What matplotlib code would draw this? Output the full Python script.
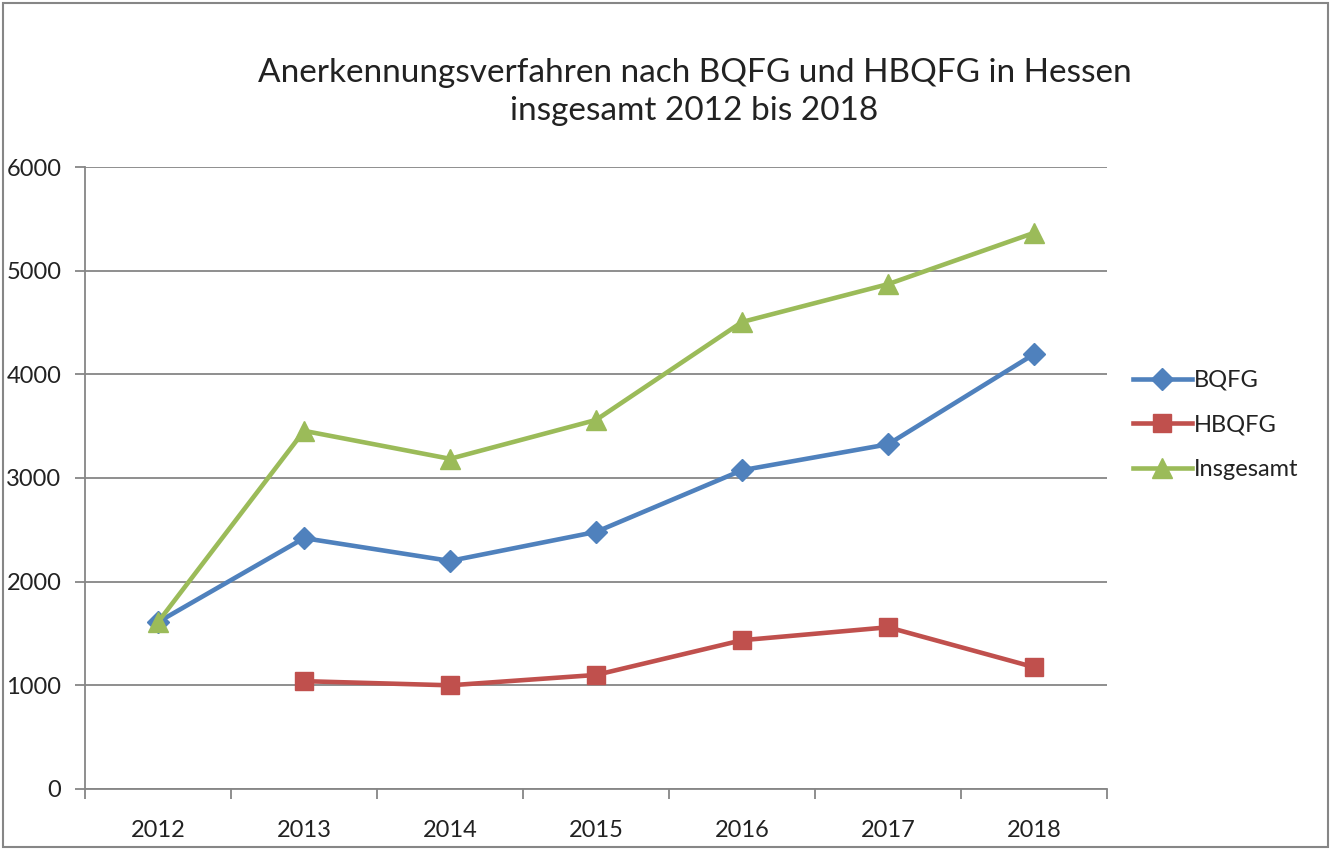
import matplotlib

matplotlib.use("Agg")
import matplotlib.pyplot as plt
from matplotlib.patches import Rectangle

years = ["2012", "2013", "2014", "2015", "2016", "2017", "2018"]
bqfg = [1610, 2420, 2200, 2480, 3075, 3325, 4195]
hbqfg = [None, 1040, 1000, 1100, 1435, 1560, 1175]
insgesamt = [1610, 3455, 3185, 3560, 4505, 4870, 5365]
series_names = ["BQFG", "HBQFG", "Insgesamt"]
title = "Anerkennungsverfahren nach BQFG und HBQFG in Hessen\ninsgesamt 2012 bis 2018"

plt.rcParams["font.family"] = ["Lato", "DejaVu Sans"]
grey = "#868686"
text_col = "#222222"

fig = plt.figure(figsize=(13.33, 8.5), dpi=100)
ax = fig.add_axes([0.0638, 0.0718, 0.7667, 0.7317])

x = list(range(len(years)))
hb_x = [i for i, v in zip(x, hbqfg) if v is not None]
hb_y = [v for v in hbqfg if v is not None]

ax.plot(x, bqfg, color="#4F81BD", lw=3.3, marker="D", ms=11, label=series_names[0], zorder=3)
ax.plot(hb_x, hb_y, color="#C0504D", lw=3.3, marker="s", ms=13, label=series_names[1], zorder=3)
ax.plot(x, insgesamt, color="#9BBB59", lw=3.3, marker="^", ms=14, label=series_names[2], zorder=4)

ax.set_xlim(-0.5, len(years) - 0.5)
ax.set_ylim(0, 6000)
ax.set_yticks(range(0, 6001, 1000))
ax.yaxis.grid(True, color=grey, lw=1.3)
ax.set_axisbelow(True)

ax.set_xticks(x)
ax.set_xticklabels(years)
ax.set_xticks([i - 0.5 for i in range(len(years) + 1)], minor=True)
ax.tick_params(axis="x", which="major", length=0, pad=22, labelsize=17, labelcolor=text_col)
ax.tick_params(axis="x", which="minor", length=7, width=1.3, color=grey)
ax.tick_params(axis="y", length=7, width=1.3, color=grey, pad=10, labelsize=17, labelcolor=text_col)

for side in ("top", "right"):
    ax.spines[side].set_visible(False)
for side in ("left", "bottom"):
    ax.spines[side].set_color(grey)
    ax.spines[side].set_linewidth(1.3)

fig.text(0.521, 0.892, title, ha="center", va="center", fontsize=24, color=text_col, linespacing=1.35)

fig.legend(loc="center left", bbox_to_anchor=(0.834, 0.5), frameon=False, fontsize=17,
           handlelength=2.5, handletextpad=0.1, labelspacing=1.0, labelcolor=text_col)

fig.add_artist(Rectangle((0.002, 0.003), 0.994, 0.994, transform=fig.transFigure,
                         fill=False, edgecolor=grey, lw=1.5))

fig.savefig("out.png", dpi=100)
